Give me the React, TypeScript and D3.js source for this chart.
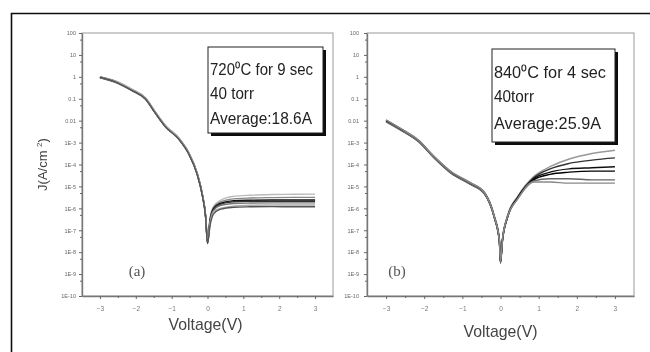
import React, { useEffect, useRef } from 'react'
import * as d3 from 'd3'

// Voltage sample points (V) for each panel
const voltsA = [-3, -2.57, -2.1, -1.73, -1.45, -1.17, -0.8, -0.52, -0.29, -0.15, -0.05, 0, 0.07, 0.17, 0.35, 0.73, 1.2, 1.8, 2.4, 3]
const voltsB = [-3, -2.6, -2.16, -1.74, -1.3, -0.8, -0.42, -0.16, -0.03, 0, 0.05, 0.18, 0.45, 0.87, 1.3, 1.8, 2.4, 3]

// log10 of current density J (A/cm2), one array per measured curve
const curvesA = [
  [-0.02, -0.2, -0.58, -0.95, -1.6, -2.22, -2.78, -3.46, -4.36, -5.28, -6.35, -7.45, -6.45, -5.9, -5.65, -5.45, -5.4, -5.37, -5.36, -5.35],
  [0, -0.22, -0.6, -0.98, -1.63, -2.24, -2.8, -3.48, -4.39, -5.3, -6.38, -7.5, -6.5, -5.97, -5.72, -5.57, -5.53, -5.51, -5.5, -5.5],
  [-0.03, -0.24, -0.62, -1.0, -1.66, -2.27, -2.83, -3.51, -4.42, -5.34, -6.4, -7.55, -6.55, -6.0, -5.78, -5.65, -5.63, -5.62, -5.62, -5.62],
  [-0.01, -0.21, -0.61, -0.99, -1.65, -2.26, -2.82, -3.5, -4.41, -5.33, -6.42, -7.6, -6.6, -6.05, -5.82, -5.7, -5.68, -5.68, -5.68, -5.68],
  [-0.04, -0.25, -0.64, -1.02, -1.67, -2.28, -2.84, -3.52, -4.43, -5.35, -6.44, -7.58, -6.62, -6.1, -5.88, -5.78, -5.76, -5.75, -5.75, -5.75],
  [0.01, -0.19, -0.57, -0.96, -1.62, -2.23, -2.79, -3.47, -4.38, -5.31, -6.37, -7.52, -6.7, -6.15, -6.0, -5.9, -5.86, -5.85, -5.85, -5.85],
  [-0.02, -0.23, -0.63, -1.01, -1.67, -2.29, -2.85, -3.53, -4.45, -5.37, -6.46, -7.62, -6.8, -6.25, -6.05, -5.95, -5.93, -5.92, -5.93, -5.93],
]
const curvesB = [
  [-1.97, -2.37, -2.87, -3.62, -4.31, -4.81, -5.26, -6.35, -7.4, -8.4, -7.4, -6.35, -5.45, -4.55, -4.1, -3.75, -3.5, -3.35],
  [-2.0, -2.4, -2.9, -3.66, -4.35, -4.85, -5.3, -6.4, -7.45, -8.45, -7.45, -6.4, -5.5, -4.6, -4.2, -3.95, -3.8, -3.7],
  [-2.03, -2.43, -2.93, -3.69, -4.38, -4.88, -5.33, -6.43, -7.5, -8.5, -7.5, -6.43, -5.52, -4.65, -4.35, -4.2, -4.15, -4.1],
  [-1.99, -2.41, -2.91, -3.67, -4.36, -4.86, -5.31, -6.41, -7.47, -8.47, -7.47, -6.42, -5.53, -4.7, -4.45, -4.35, -4.3, -4.3],
  [-2.05, -2.45, -2.95, -3.7, -4.4, -4.9, -5.35, -6.45, -7.52, -8.5, -7.52, -6.45, -5.56, -4.75, -4.65, -4.65, -4.7, -4.7],
  [-1.96, -2.38, -2.88, -3.64, -4.33, -4.83, -5.28, -6.38, -7.42, -8.42, -7.42, -6.38, -5.58, -4.8, -4.8, -4.85, -4.85, -4.85],
]
const colorsA = ['#bbbbbb', '#888888', '#111111', '#333333', '#777777', '#aaaaaa', '#555555']
const colorsB = ['#999999', '#333333', '#111111', '#000000', '#666666', '#888888']

const yTickExps = [2, 1, 0, -1, -2, -3, -4, -5, -6, -7, -8, -9, -10]
const yTickLabels = ['100', '10', '1', '0.1', '0.01', '1E-3', '1E-4', '1E-5', '1E-6', '1E-7', '1E-8', '1E-9', '1E-10']
const xTicks = [-3, -2, -1, 0, 1, 2, 3]
const xMinorTicks = [-2.5, -1.5, -0.5, 0.5, 1.5, 2.5]

const legendA = ['720\u2070C for 9 sec', '40 torr', 'Average:18.6A']
const legendB = ['840\u2070C for 4 sec', '40torr', 'Average:25.9A']

const panelA = {
  left: 82, right: 333, top: 33, bottom: 296,
  volts: voltsA, curves: curvesA, colors: colorsA,
  legend: legendA, box: { x: 208, y: 47, w: 115, h: 86 },
  legendY: [75, 99, 124], legendW: [103, 44, 102],
  tag: '(a)', tagX: 137, xTitleY: 330, yTitle: true,
}
const panelB = {
  left: 367, right: 634, top: 33, bottom: 296,
  volts: voltsB, curves: curvesB, colors: colorsB,
  legend: legendB, box: { x: 492, y: 49, w: 123, h: 93 },
  legendY: [78, 102, 129], legendW: [112, 40, 107],
  tag: '(b)', tagX: 397, xTitleY: 337, yTitle: false,
}

const FONT = 'Liberation Sans, Arial, sans-serif'

const drawPanel = (root, p) => {
  const x = d3.scaleLinear().domain([-3.5, 3.5]).range([p.left, p.right])
  const y = d3.scaleLog().domain([1e-10, 1e2]).range([p.bottom, p.top])
  const g = root.append('g')

  // Plot frame
  g.append('rect')
    .attr('x', p.left).attr('y', p.top)
    .attr('width', p.right - p.left).attr('height', p.bottom - p.top)
    .attr('fill', 'none').attr('stroke', '#9a9a9a').attr('stroke-width', 1)

  // Y axis, major and minor ticks
  const yAxis = g.append('g')
    .attr('transform', `translate(${p.left},0)`)
    .call(d3.axisLeft(y)
      .tickValues(yTickExps.map(e => Math.pow(10, e)))
      .tickFormat((d, i) => yTickLabels[i])
      .tickSize(3).tickPadding(p.yTitle ? 3 : 5).tickSizeOuter(0))
  g.append('g')
    .attr('transform', `translate(${p.left},0)`)
    .call(d3.axisLeft(y)
      .tickValues(yTickExps.slice(1).map(e => 5 * Math.pow(10, e)))
      .tickFormat(() => '').tickSize(2).tickSizeOuter(0))
    .select('.domain').remove()

  // X axis, major and minor ticks
  const xAxis = g.append('g')
    .attr('transform', `translate(0,${p.bottom})`)
    .call(d3.axisBottom(x).tickValues(xTicks).tickFormat(d3.format('d'))
      .tickSize(3).tickPadding(7).tickSizeOuter(0))
  g.append('g')
    .attr('transform', `translate(0,${p.bottom})`)
    .call(d3.axisBottom(x).tickValues(xMinorTicks).tickFormat(() => '').tickSize(2).tickSizeOuter(0))
    .select('.domain').remove()

  g.selectAll('.tick line').style('stroke', '#666')
  g.selectAll('.domain').style('stroke', '#777').style('stroke-width', 1.4)
  yAxis.selectAll('text').style('fill', '#666').style('font-size', '5.5px').style('font-family', FONT)
  xAxis.selectAll('text').style('fill', '#777').style('font-size', '6.5px').style('font-family', FONT)

  // Curves
  const line = d3.line<number>()
    .x((d, i) => x(p.volts[i]))
    .y(d => y(Math.pow(10, d)))
    .curve(d3.curveMonotoneX)
  p.curves.forEach((c, i) => {
    g.append('path')
      .attr('d', line(c))
      .attr('fill', 'none')
      .attr('stroke', p.colors[i])
      .attr('stroke-width', 1.4)
  })

  // Legend box with drop shadow
  const b = p.box
  g.append('rect').attr('x', b.x + 3).attr('y', b.y + 3).attr('width', b.w).attr('height', b.h).attr('fill', '#111')
  g.append('rect').attr('x', b.x).attr('y', b.y).attr('width', b.w).attr('height', b.h)
    .attr('fill', 'white').attr('stroke', '#222').attr('stroke-width', 1)
  p.legend.forEach((t, i) => {
    g.append('text')
      .attr('x', b.x + 2).attr('y', p.legendY[i])
      .attr('textLength', p.legendW[i]).attr('lengthAdjust', 'spacingAndGlyphs')
      .style('font-family', FONT).style('font-size', '16px').style('fill', '#222')
      .text(t)
  })

  // Panel tag
  g.append('text')
    .attr('x', p.tagX).attr('y', 276).attr('text-anchor', 'middle')
    .style('font-family', 'Liberation Serif, serif').style('font-size', '15px').style('fill', '#555')
    .text(p.tag)

  // Axis titles
  g.append('text')
    .attr('x', (p.left + p.right) / 2 - (p.yTitle ? 2 : 0)).attr('y', p.xTitleY).attr('text-anchor', 'middle')
    .attr('textLength', 74).attr('lengthAdjust', 'spacingAndGlyphs')
    .style('font-family', FONT).style('font-size', '17px').style('fill', '#444')
    .text('Voltage(V)')

  if (p.yTitle) {
    const t = g.append('text')
      .attr('transform', `translate(47,${(p.top + p.bottom) / 2}) rotate(-90)`)
      .attr('text-anchor', 'middle')
      .style('font-family', FONT).style('font-size', '13px').style('fill', '#444')
    t.append('tspan').text('J(A/cm ')
    t.append('tspan').attr('dy', -5).style('font-size', '8px').text('2')
    t.append('tspan').attr('dy', 5).text(')')
  }
}

const App = () => {
  const ref = useRef<SVGSVGElement>(null)

  useEffect(() => {
    const svg = d3.select(ref.current)
    svg.selectAll('*').remove()

    const defs = svg.append('defs')
    defs.append('filter').attr('id', 'scan')
      .append('feGaussianBlur').attr('stdDeviation', 0.35)

    const root = svg.append('g').attr('filter', 'url(#scan)')
    root.append('rect').attr('width', 650).attr('height', 352).attr('fill', 'white')

    // Outer frame (top and left edges only)
    root.append('path')
      .attr('d', 'M11.5,352 V13.5 H650')
      .attr('fill', 'none').attr('stroke', '#111').attr('stroke-width', 1.6)

    drawPanel(root, panelA)
    drawPanel(root, panelB)
  }, [])

  return (
    <svg
      ref={ref}
      width={650}
      height={352}
      style={{ position: 'absolute', left: 0, top: 0, background: 'white' }}
    />
  )
}

export default App
